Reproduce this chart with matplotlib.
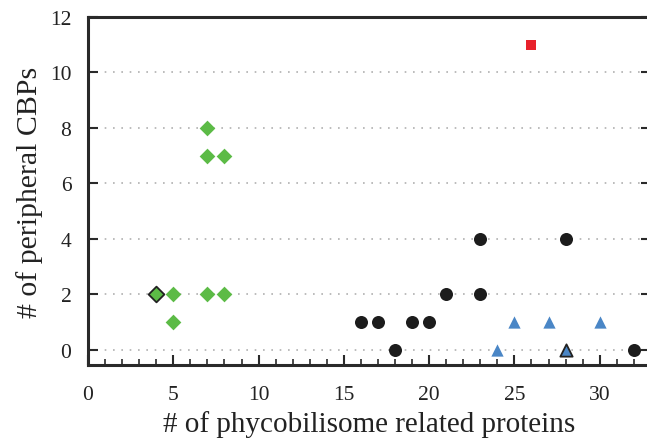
#!/usr/bin/env python3
"""Scatter of peripheral CBPs vs phycobilisome related proteins."""

import matplotlib
matplotlib.use('Agg')
import matplotlib.pyplot as plt
from matplotlib.ticker import MultipleLocator

plt.rcParams['font.family'] = ['Liberation Serif', 'DejaVu Serif']

# Green diamonds
green_x = [5, 5, 7, 7, 8, 7, 8]
green_y = [2, 1, 8, 7, 7, 2, 2]
green_hl_x = [4]
green_hl_y = [2]

# Red square
red_x = [26]
red_y = [11]

# Black circles
black_x = [16, 17, 18, 19, 20, 21, 23, 23, 28, 32]
black_y = [1, 1, 0, 1, 1, 2, 2, 4, 4, 0]

# Blue triangles
blue_x = [24, 25, 27, 30]
blue_y = [0, 1, 1, 1]
blue_hl_x = [28]
blue_hl_y = [0]

GREEN = '#5cbb46'
RED = '#e8212b'
BLUE = '#4a86c6'
BLACK = '#1c1c1c'

fig = plt.figure(figsize=(6.47, 4.39), dpi=100)
ax = fig.add_axes([0.136, 0.166, 0.870, 0.793])

ax.scatter(green_x, green_y, marker='D', s=64, color=GREEN, linewidths=0, zorder=3)
ax.scatter(green_hl_x, green_hl_y, marker='D', s=64, color=GREEN,
           edgecolors='#222222', linewidths=1.3, zorder=3)
ax.scatter(red_x, red_y, marker='s', s=60, color=RED, linewidths=0, zorder=3)
ax.scatter(black_x, black_y, marker='o', s=88, color=BLACK, linewidths=0, zorder=3)
ax.scatter(blue_x, blue_y, marker='^', s=78, color=BLUE, linewidths=0, zorder=3)
ax.scatter(blue_hl_x, blue_hl_y, marker='^', s=78, color=BLUE,
           edgecolors='#222222', linewidths=1.3, zorder=3)

ax.set_xlim(0, 33)
ax.set_ylim(-0.55, 12)
ax.xaxis.set_major_locator(MultipleLocator(5))
ax.xaxis.set_minor_locator(MultipleLocator(1))
ax.yaxis.set_major_locator(MultipleLocator(2))

ax.yaxis.grid(True, linestyle=(0, (1, 4)), color='#b0b0b0', linewidth=1.2)
ax.set_axisbelow(True)

for side in ['left', 'bottom', 'top', 'right']:
    ax.spines[side].set_linewidth(2.2)
    ax.spines[side].set_color('#2a2a2a')

ax.tick_params(axis='x', which='major', direction='in', length=7, width=1.5,
               labelsize=15.5, pad=14, colors='#2a2a2a', labelcolor='#222222')
ax.tick_params(axis='x', which='minor', direction='in', length=4, width=1.2,
               colors='#2a2a2a')
ax.tick_params(axis='y', which='major', direction='in', length=7, width=1.5,
               labelsize=15.5, pad=12, right=True, colors='#2a2a2a',
               labelcolor='#222222')

ax.set_xlabel('# of phycobilisome related proteins', fontsize=21, color='#222222',
              labelpad=5)
ax.set_ylabel('# of peripheral CBPs', fontsize=21.5, color='#222222', labelpad=5)

plt.savefig('out.png', dpi=100)
plt.close()
